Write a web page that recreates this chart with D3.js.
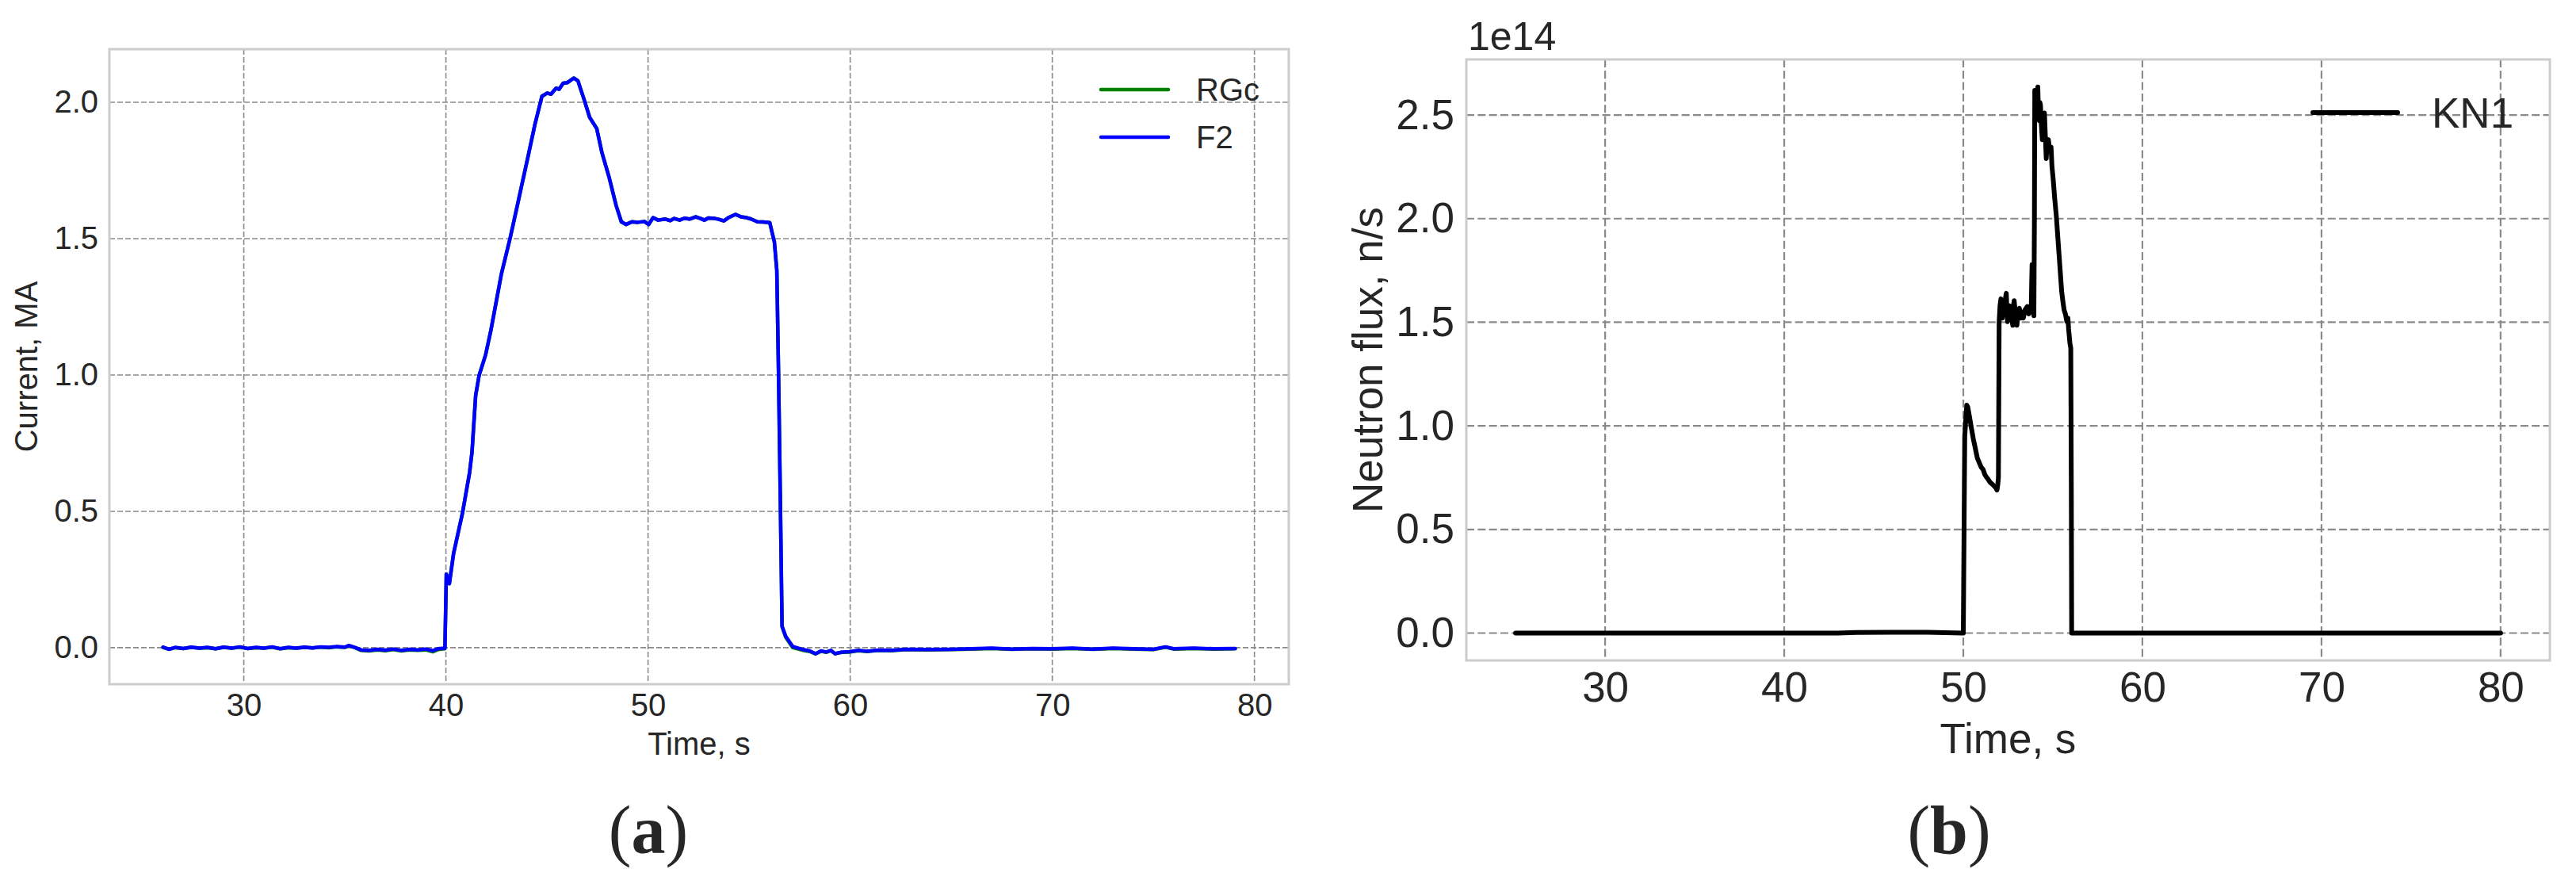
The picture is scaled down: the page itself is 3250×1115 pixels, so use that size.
<!DOCTYPE html>
<html>
<head>
<meta charset="utf-8">
<script src="https://cdn.jsdelivr.net/npm/d3@7"></script>
<style>
  html, body { margin: 0; padding: 0; background: #ffffff; }
  svg { display: block; }
  text { font-family: "Liberation Sans", Arial, sans-serif; fill: #262626; }
</style>
</head>
<body>
<svg id="chart" width="3250" height="1115"></svg>
<script>
// ---------------- DATA ----------------
// Panel (a): plasma current, MA
const xTicksA = [30, 40, 50, 60, 70, 80];
const yTicksA = [0.0, 0.5, 1.0, 1.5, 2.0];
const f2Time = [26.0,26.3,26.6,27.0,27.4,27.8,28.2,28.6,29.0,29.4,29.8,30.2,30.6,31.0,31.4,31.8,32.2,32.6,33.0,33.4,33.8,34.2,34.6,35.0,35.2,35.5,35.8,36.2,36.6,37.0,37.4,37.8,38.2,38.6,39.0,39.35,39.6,39.95,
  40.02,40.1,40.17,40.38,40.82,41.17,41.29,41.47,41.64,41.96,42.22,42.74,43.18,43.62,44.06,44.40,44.75,45.01,45.2,45.45,45.6,45.80,46.0,46.32,46.53,46.85,47.11,47.46,47.72,48.07,48.42,48.68,48.91,
  49.2,49.5,49.82,50.03,50.25,50.5,50.86,51.1,51.3,51.56,51.8,52.05,52.35,52.6,52.78,53.0,53.31,53.5,53.75,54.0,54.32,54.6,54.88,55.1,55.41,55.7,56.02,
  56.25,56.37,56.46,56.54,56.63,56.81,57.16,57.68,58.0,58.29,58.55,58.81,59.05,59.25,59.6,59.95,60.4,60.82,61.4,62.04,62.8,63.8,65.0,66.0,67.0,68.0,69.0,70.0,71.0,72.0,73.0,74.0,75.0,75.6,76.0,77.0,78.0,79.05];
const f2Values = [0.002,-0.006,0.001,-0.003,0.002,-0.002,0.001,-0.004,0.002,-0.002,0.003,-0.003,0.001,-0.002,0.003,-0.004,0.001,-0.002,0.002,-0.001,0.003,0.001,0.004,0.002,0.008,0.001,-0.008,-0.010,-0.006,-0.009,-0.005,-0.010,-0.006,-0.008,-0.005,-0.011,-0.004,-0.002,
  0.270,0.250,0.235,0.346,0.494,0.642,0.717,0.924,0.998,1.073,1.162,1.369,1.503,1.651,1.800,1.918,2.022,2.034,2.030,2.052,2.048,2.070,2.072,2.089,2.079,2.007,1.945,1.904,1.815,1.726,1.622,1.562,1.552,
  1.562,1.560,1.563,1.552,1.577,1.568,1.572,1.566,1.574,1.568,1.575,1.572,1.580,1.574,1.568,1.576,1.574,1.571,1.565,1.578,1.589,1.580,1.577,1.572,1.562,1.561,1.559,
  1.488,1.384,0.984,0.568,0.079,0.042,0.004,-0.007,-0.012,-0.022,-0.012,-0.016,-0.010,-0.022,-0.016,-0.015,-0.010,-0.013,-0.009,-0.010,-0.006,-0.007,-0.006,-0.004,-0.002,-0.005,-0.003,-0.004,-0.002,-0.005,-0.002,-0.004,-0.006,0.003,-0.004,-0.002,-0.004,-0.003];
// RGc runs almost exactly under F2; it only shows at the edges of the baseline segments
const rgcTime = f2Time;
const rgcValues = [0.001,-0.006,0.000,-0.003,0.001,-0.002,0.000,-0.004,0.001,-0.002,0.002,-0.003,0.000,-0.002,0.002,-0.004,0.000,-0.002,0.001,-0.001,0.002,0.000,0.003,0.001,0.007,0.000,-0.010,-0.012,-0.008,-0.011,-0.007,-0.012,-0.008,-0.010,-0.008,-0.015,-0.007,-0.004,
  0.269,0.250,0.235,0.346,0.494,0.642,0.717,0.924,0.998,1.073,1.162,1.369,1.503,1.651,1.800,1.918,2.022,2.034,2.030,2.052,2.048,2.070,2.072,2.089,2.079,2.007,1.945,1.904,1.815,1.726,1.622,1.562,1.552,
  1.562,1.560,1.563,1.552,1.577,1.568,1.572,1.566,1.574,1.568,1.575,1.572,1.580,1.574,1.568,1.576,1.574,1.571,1.565,1.578,1.589,1.580,1.577,1.572,1.562,1.561,1.559,
  1.488,1.384,0.984,0.568,0.077,0.038,0.000,-0.010,-0.014,-0.023,-0.013,-0.017,-0.011,-0.022,-0.017,-0.016,-0.011,-0.014,-0.010,-0.011,-0.007,-0.008,-0.007,-0.005,-0.003,-0.006,-0.004,-0.005,-0.003,-0.006,-0.003,-0.005,-0.007,0.002,-0.005,-0.003,-0.005,-0.004];

// Panel (b): neutron flux, 1e14 n/s
const xTicksB = [30, 40, 50, 60, 70, 80];
const yTicksB = [0.0, 0.5, 1.0, 1.5, 2.0, 2.5];
const kn1Time = [25.0,43.0,44.0,46.0,48.0,49.98,50.0,50.08,50.19,50.25,50.34,50.45,50.56,50.65,50.78,50.9,51.0,51.1,51.2,51.29,51.4,51.51,51.6,51.74,51.82,51.88,51.93,51.96,
  52.0,52.05,52.10,52.14,52.18,52.25,52.30,52.36,52.40,52.44,52.47,52.55,52.62,52.70,52.76,52.80,52.84,52.92,52.99,53.06,53.13,53.20,53.27,53.35,53.45,53.57,53.65,53.72,53.79,53.82,53.84,53.88,53.94,
  53.97,53.99,54.04,54.09,54.12,54.16,54.2,54.24,54.28,54.31,54.36,54.41,54.46,54.53,54.58,54.63,54.68,54.75,54.82,54.90,54.95,55.01,55.10,55.19,55.34,55.49,55.56,55.63,55.70,55.78,55.84,55.88,55.95,56.0,56.03,56.05,57.0,80.0];
const kn1Values = [0.0,0.0,0.003,0.004,0.004,0.0,0.0,0.95,1.10,1.09,1.046,0.99,0.936,0.90,0.845,0.82,0.80,0.79,0.765,0.753,0.74,0.726,0.72,0.708,0.70,0.69,0.72,0.753,
  1.50,1.58,1.613,1.53,1.52,1.60,1.55,1.62,1.64,1.55,1.503,1.58,1.576,1.53,1.485,1.58,1.604,1.53,1.485,1.55,1.567,1.52,1.55,1.52,1.56,1.576,1.54,1.56,1.549,1.70,1.778,1.60,1.531,
  2.00,2.619,2.55,2.527,2.60,2.635,2.50,2.473,2.56,2.546,2.45,2.381,2.47,2.51,2.40,2.29,2.36,2.381,2.33,2.345,2.25,2.198,2.10,2.015,1.833,1.65,1.60,1.558,1.54,1.503,1.52,1.467,1.40,1.375,0.70,0.0,0.0,0.0];

// ---------------- DRAWING ----------------
const svg = d3.select("#chart");

function panel(cfg) {
  const g = svg.append("g");
  const x = d3.scaleLinear().domain(cfg.xDomain).range([cfg.left, cfg.right]);
  const y = d3.scaleLinear().domain(cfg.yDomain).range([cfg.bottom, cfg.top]);

  // grid
  const grid = g.append("g");
  grid.selectAll("line.vx").data(cfg.xTicks).join("line")
    .attr("x1", d => x(d)).attr("x2", d => x(d))
    .attr("y1", cfg.top).attr("y2", cfg.bottom)
    .attr("stroke", "#8a8a8a").attr("stroke-width", cfg.gridW).attr("stroke-dasharray", cfg.gridDash);
  grid.selectAll("line.hy").data(cfg.yTicks).join("line")
    .attr("x1", cfg.left).attr("x2", cfg.right)
    .attr("y1", d => y(d)).attr("y2", d => y(d))
    .attr("stroke", "#8a8a8a").attr("stroke-width", cfg.gridW).attr("stroke-dasharray", cfg.gridDash);

  // axes (tick labels only, no tick marks)
  const xAxis = g.append("g").attr("transform", `translate(0,${cfg.bottom})`)
    .call(d3.axisBottom(x).tickValues(cfg.xTicks).tickFormat(d3.format("d")).tickSize(0).tickPadding(cfg.xPad));
  xAxis.select(".domain").remove();
  xAxis.selectAll("text").style("font-size", cfg.font + "px").style("font-family", "Liberation Sans, Arial, sans-serif").attr("fill", "#262626");

  const yAxis = g.append("g").attr("transform", `translate(${cfg.left},0)`)
    .call(d3.axisLeft(y).tickValues(cfg.yTicks).tickFormat(d3.format(".1f")).tickSize(0).tickPadding(cfg.yPad));
  yAxis.select(".domain").remove();
  yAxis.selectAll("text").style("font-size", cfg.font + "px").style("font-family", "Liberation Sans, Arial, sans-serif").attr("fill", "#262626");

  // series
  const line = d3.line().x(d => x(d[0])).y(d => y(d[1]));
  cfg.series.forEach(s => {
    g.append("path")
      .datum(d3.zip(s.t, s.v))
      .attr("d", line)
      .attr("fill", "none")
      .attr("stroke", s.color)
      .attr("stroke-width", cfg.lineW)
      .attr("stroke-linejoin", "round")
      .attr("stroke-linecap", "round");
  });

  // frame
  g.append("rect")
    .attr("x", cfg.left).attr("y", cfg.top)
    .attr("width", cfg.right - cfg.left).attr("height", cfg.bottom - cfg.top)
    .attr("fill", "none").attr("stroke", "#cccccc").attr("stroke-width", 3);

  // legend
  cfg.series.forEach((s, i) => {
    const ly = cfg.legY + i * cfg.legStep;
    g.append("line")
      .attr("x1", cfg.legX).attr("x2", cfg.legX + cfg.legLen)
      .attr("y1", ly).attr("y2", ly)
      .attr("stroke", s.color).attr("stroke-width", cfg.lineW)
      .attr("stroke-linecap", "round");
    g.append("text")
      .attr("x", cfg.legX + cfg.legLen + cfg.legGap).attr("y", ly)
      .attr("dominant-baseline", "central")
      .style("font-size", cfg.font + "px")
      .text(s.name);
  });

  // axis labels
  g.append("text")
    .attr("x", (cfg.left + cfg.right) / 2).attr("y", cfg.xLabelY)
    .attr("text-anchor", "middle")
    .style("font-size", cfg.labelFont + "px")
    .text(cfg.xLabel);
  g.append("text")
    .attr("transform", `translate(${cfg.yLabelX},${(cfg.top + cfg.bottom) / 2}) rotate(-90)`)
    .attr("text-anchor", "middle")
    .attr("dominant-baseline", "central")
    .style("font-size", cfg.labelFont + "px")
    .text(cfg.yLabel);

  // panel letter
  const pl = svg.append("text")
    .attr("x", cfg.letterX).attr("y", 1076)
    .attr("text-anchor", "middle")
    .style("font-family", "Liberation Serif, Times New Roman, serif")
    .style("font-size", "86px")
    .attr("fill", "#000");
  pl.append("tspan").text("(");
  pl.append("tspan").attr("font-weight", "bold").text(cfg.letter);
  pl.append("tspan").text(")");
  return { x, y, g };
}

panel({
  left: 138, right: 1626, top: 62, bottom: 863,
  xDomain: [23.35, 81.7], yDomain: [-0.134, 2.195],
  xTicks: xTicksA, yTicks: yTicksA,
  font: 40, labelFont: 40, xPad: 12, yPad: 14,
  gridW: 1.6, gridDash: "7,3", lineW: 4.5,
  series: [
    { name: "RGc", t: rgcTime, v: rgcValues, color: "#008000" },
    { name: "F2", t: f2Time, v: f2Values, color: "#0000ff" }
  ],
  legX: 1389, legLen: 85, legGap: 35, legY: 113, legStep: 60,
  xLabel: "Time, s", xLabelY: 952,
  yLabel: "Current, MA", yLabelX: 33,
  letter: "a", letterX: 818
});

panel({
  left: 1850, right: 3217, top: 75, bottom: 833,
  xDomain: [22.25, 82.75], yDomain: [-0.132, 2.768],
  xTicks: xTicksB, yTicks: yTicksB,
  font: 53, labelFont: 53, xPad: 14, yPad: 15,
  gridW: 2.2, gridDash: "10,4.3", lineW: 6,
  series: [
    { name: "KN1", t: kn1Time, v: kn1Values, color: "#000000" }
  ],
  legX: 2918, legLen: 107, legGap: 43, legY: 142, legStep: 70,
  xLabel: "Time, s", xLabelY: 950,
  yLabel: "Neutron flux, n/s", yLabelX: 1725,
  letter: "b", letterX: 2459
});

// offset (multiplier) text for panel (b)
svg.append("text")
  .attr("x", 1852).attr("y", 63)
  .style("font-size", "50px")
  .text("1e14");
</script>
</body>
</html>
